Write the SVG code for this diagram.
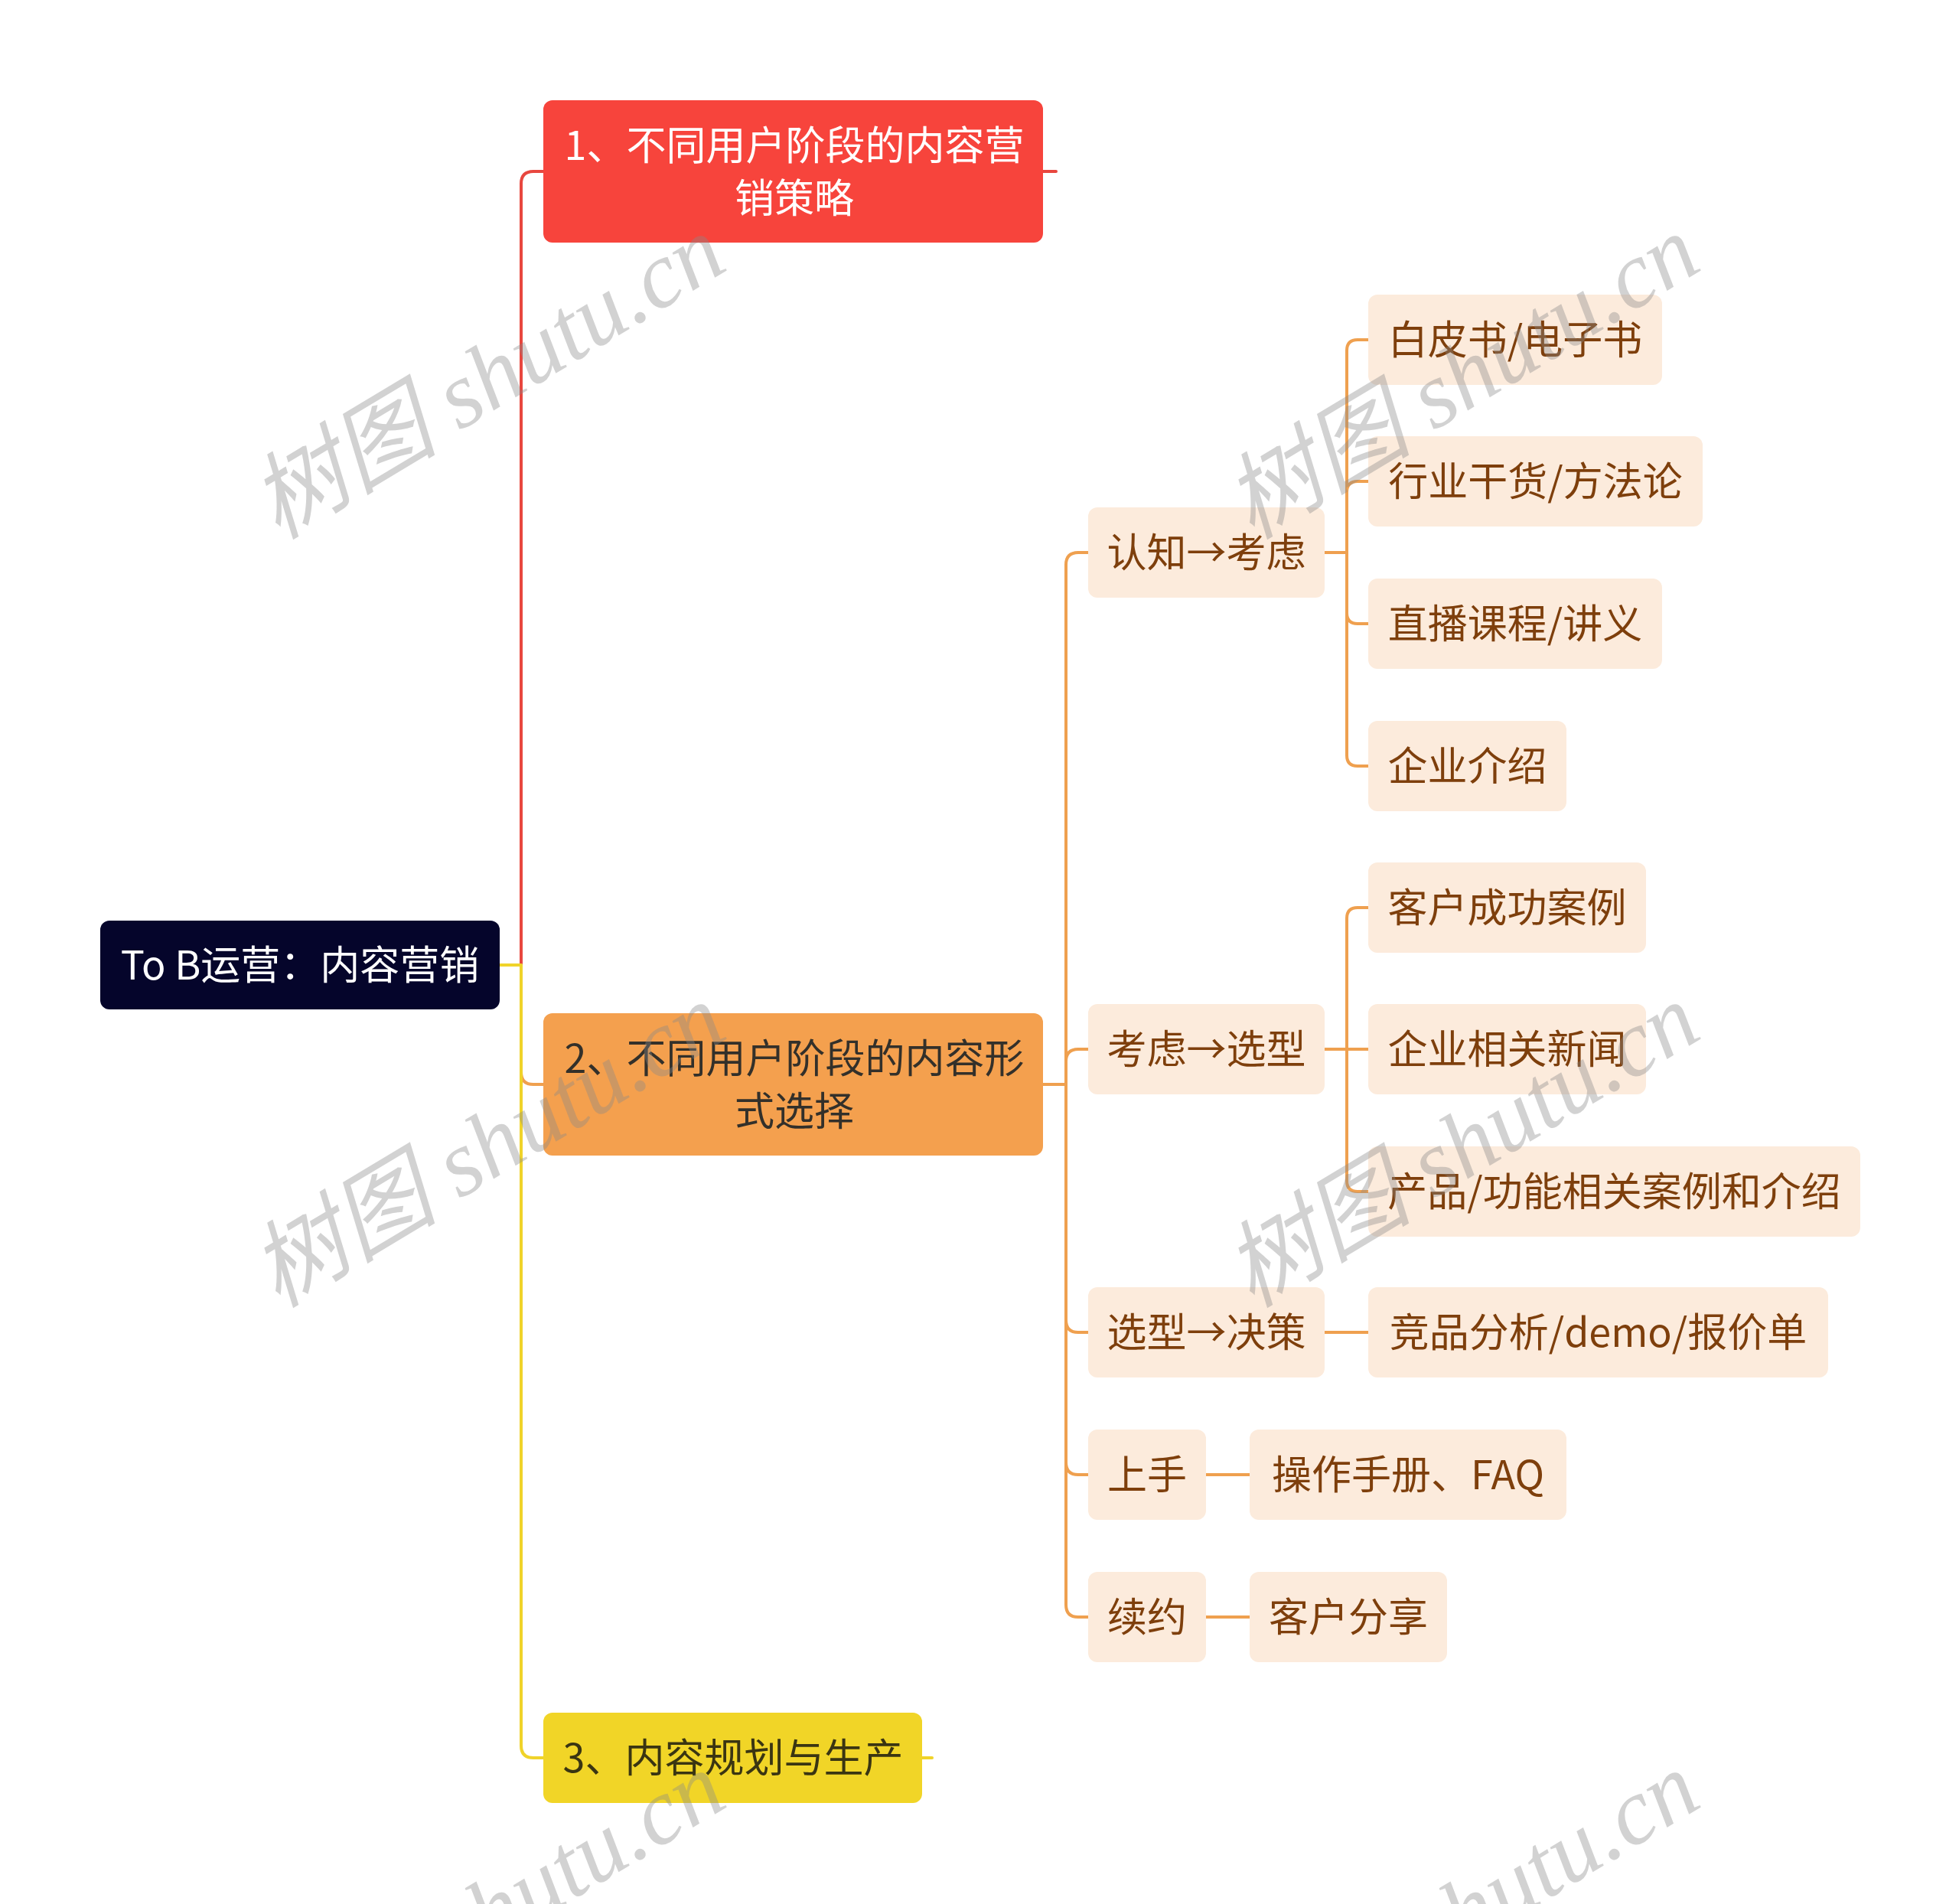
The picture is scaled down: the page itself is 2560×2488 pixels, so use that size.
<svg xmlns="http://www.w3.org/2000/svg" width="2560" height="2488" viewBox="0 0 2560 2488">
<style>
text{font-family:"Noto Sans CJK SC","Noto Sans",sans-serif;font-size:52px;text-anchor:middle}
.lnk{fill:none;stroke-width:4;stroke-linecap:round;stroke-linejoin:round}
.red{stroke:#E8473F}
.org{stroke:#EFA04F}
.yel{stroke:#F0D32A}
.sub{fill:#FCEBDC}
.subt{fill:#7E3F0C}
.wm{font-family:"Liberation Serif","Noto Sans CJK SC",serif;font-style:italic;font-size:123px;fill:#8a8a8a;fill-opacity:0.38;text-anchor:start}
</style>
<rect width="2560" height="2488" fill="#ffffff"/>
<g id="connectors">
<path class="lnk red" d="M653,1261 H681 V240 Q681,224 697,224 H710"/>
<path class="lnk org" d="M653,1261 H681 V1401 Q681,1417 697,1417 H710"/>
<path class="lnk yel" d="M653,1261 H681 V2281 Q681,2297 697,2297 H710"/>
<path class="lnk red" d="M1363,224 H1380"/>
<path class="lnk yel" d="M1205,2297 H1218"/>
<path class="lnk org" d="M1363,1417 H1393 V738 Q1393,722 1409,722 H1422"/>
<path class="lnk org" d="M1363,1417 H1393 V1387 Q1393,1371 1409,1371 H1422"/>
<path class="lnk org" d="M1363,1417 H1393 V1725 Q1393,1741 1409,1741 H1422"/>
<path class="lnk org" d="M1363,1417 H1393 V1911 Q1393,1927 1409,1927 H1422"/>
<path class="lnk org" d="M1363,1417 H1393 V2097 Q1393,2113 1409,2113 H1422"/>
<path class="lnk org" d="M1731,722 H1760 V458 Q1760,444 1774,444 H1788"/>
<path class="lnk org" d="M1731,722 H1760 V643 Q1760,629 1774,629 H1788"/>
<path class="lnk org" d="M1731,722 H1760 V801 Q1760,815 1774,815 H1788"/>
<path class="lnk org" d="M1731,722 H1760 V987 Q1760,1001 1774,1001 H1788"/>
<path class="lnk org" d="M1731,1371 H1760 V1200 Q1760,1186 1774,1186 H1788"/>
<path class="lnk org" d="M1731,1371 H1788"/>
<path class="lnk org" d="M1731,1371 H1760 V1543 Q1760,1557 1774,1557 H1788"/>
<path class="lnk org" d="M1731,1741 H1788"/>
<path class="lnk org" d="M1576,1927 H1633"/>
<path class="lnk org" d="M1576,2113 H1633"/>
</g>
<g id="root">
<rect x="131" y="1203" width="522" height="116" rx="12" fill="#05052B"/>
<text x="392" y="1280" fill="#ffffff">To B运营：内容营销</text>
</g>
<g id="n1">
<rect x="710" y="131" width="653" height="186" rx="12" fill="#F7443C"/>
<text x="1038" y="209" fill="#ffffff">1、不同用户阶段的内容营</text>
<text x="1038" y="278" fill="#ffffff">销策略</text>
</g>
<g id="n2">
<rect x="710" y="1324" width="653" height="186" rx="12" fill="#F4A04E"/>
<text x="1038" y="1402" fill="#33302A">2、不同用户阶段的内容形</text>
<text x="1038" y="1471" fill="#33302A">式选择</text>
</g>
<g id="n3">
<rect x="710" y="2238" width="495" height="118" rx="12" fill="#F1D527"/>
<text x="958" y="2316" fill="#3A3512">3、内容规划与生产</text>
</g>
<g id="n21">
<rect class="sub" x="1422" y="663" width="309" height="118" rx="12"/>
<text class="subt" x="1576.5" y="741">认知→考虑</text>
</g>
<g id="n22">
<rect class="sub" x="1422" y="1312" width="309" height="118" rx="12"/>
<text class="subt" x="1576.5" y="1390">考虑→选型</text>
</g>
<g id="n23">
<rect class="sub" x="1422" y="1682" width="309" height="118" rx="12"/>
<text class="subt" x="1576.5" y="1760">选型→决策</text>
</g>
<g id="n24">
<rect class="sub" x="1422" y="1868" width="154" height="118" rx="12"/>
<text class="subt" x="1499" y="1946">上手</text>
</g>
<g id="n25">
<rect class="sub" x="1422" y="2054" width="154" height="118" rx="12"/>
<text class="subt" x="1499" y="2132">续约</text>
</g>
<g id="n211">
<rect class="sub" x="1788" y="385" width="384" height="118" rx="12"/>
<text class="subt" x="1980" y="463">白皮书/电子书</text>
</g>
<g id="n212">
<rect class="sub" x="1788" y="570" width="437" height="118" rx="12"/>
<text class="subt" x="2006.5" y="648">行业干货/方法论</text>
</g>
<g id="n213">
<rect class="sub" x="1788" y="756" width="384" height="118" rx="12"/>
<text class="subt" x="1980" y="834">直播课程/讲义</text>
</g>
<g id="n214">
<rect class="sub" x="1788" y="942" width="259" height="118" rx="12"/>
<text class="subt" x="1917.5" y="1020">企业介绍</text>
</g>
<g id="n221">
<rect class="sub" x="1788" y="1127" width="363" height="118" rx="12"/>
<text class="subt" x="1969.5" y="1205">客户成功案例</text>
</g>
<g id="n222">
<rect class="sub" x="1788" y="1312" width="363" height="118" rx="12"/>
<text class="subt" x="1969.5" y="1390">企业相关新闻</text>
</g>
<g id="n223">
<rect class="sub" x="1788" y="1498" width="643" height="118" rx="12"/>
<text class="subt" x="2109.5" y="1576">产品/功能相关案例和介绍</text>
</g>
<g id="n231">
<rect class="sub" x="1788" y="1682" width="601" height="118" rx="12"/>
<text class="subt" x="2088.5" y="1760">竞品分析/demo/报价单</text>
</g>
<g id="n241">
<rect class="sub" x="1633" y="1868" width="414" height="118" rx="12"/>
<text class="subt" x="1840" y="1946">操作手册、FAQ</text>
</g>
<g id="n251">
<rect class="sub" x="1633" y="2054" width="258" height="118" rx="12"/>
<text class="subt" x="1762" y="2132">客户分享</text>
</g>
<g id="watermarks">
<text class="wm" x="363" y="706" transform="rotate(-31 363 706)">树图 shutu.cn</text>
<text class="wm" x="1636" y="706" transform="rotate(-31 1636 706)">树图 shutu.cn</text>
<text class="wm" x="363" y="1710" transform="rotate(-31 363 1710)">树图 shutu.cn</text>
<text class="wm" x="1636" y="1710" transform="rotate(-31 1636 1710)">树图 shutu.cn</text>
<text class="wm" x="363" y="2714" transform="rotate(-31 363 2714)">树图 shutu.cn</text>
<text class="wm" x="1636" y="2714" transform="rotate(-31 1636 2714)">树图 shutu.cn</text>
</g>
</svg>
